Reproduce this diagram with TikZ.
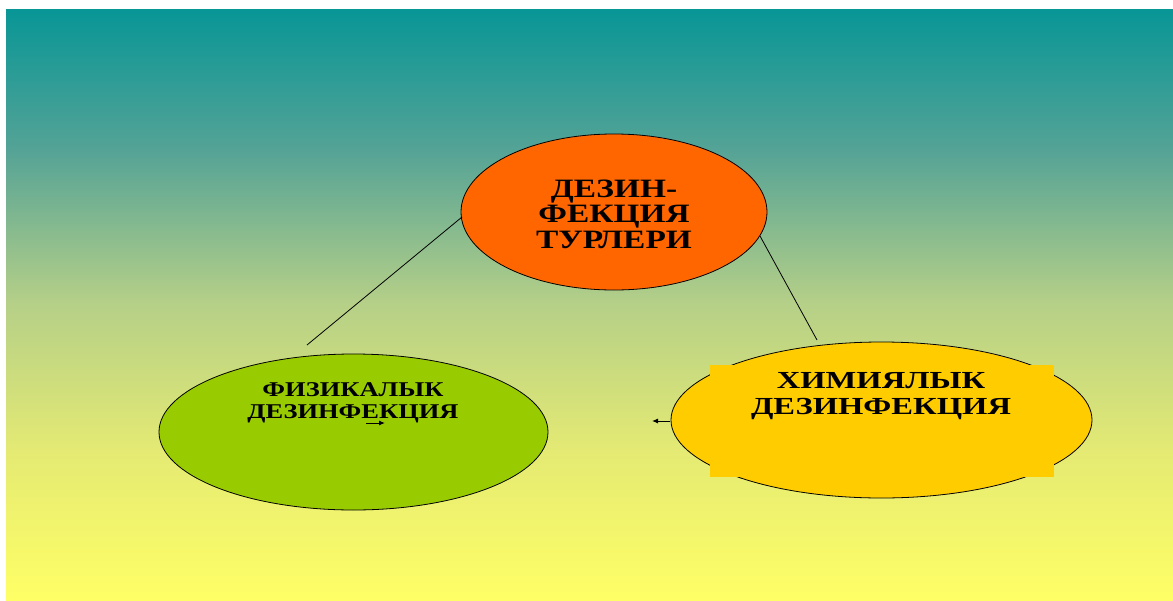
\documentclass[tikz,border=0pt]{standalone}
\usepackage{fontspec}
\setmainfont{Liberation Serif}
\newfontfamily\widefont[FakeStretch=1.26]{Liberation Serif}
\newfontfamily\widerfont[FakeStretch=1.33]{Liberation Serif}
\usetikzlibrary{shapes.geometric,arrows.meta}
\definecolor{bgA}{RGB}{8,150,150}
\definecolor{bgB}{RGB}{85,163,150}
\definecolor{bgC}{RGB}{180,207,136}
\definecolor{bgD}{RGB}{228,234,115}
\definecolor{bgE}{RGB}{255,255,102}
\definecolor{orangefill}{HTML}{FF6600}
\definecolor{greenfill}{HTML}{99CC00}
\definecolor{yellowfill}{HTML}{FFCC00}
\tikzset{
  oval/.style={ellipse, draw=black, line width=0.8pt, inner sep=0pt, minimum height=156pt},
  label/.style={align=center, anchor=base, inner sep=0pt},
  link/.style={draw=black, line width=0.8pt},
  smallarrow/.style={draw=black, line width=1pt, -{Latex[length=6pt,width=5pt]}}
}
\begin{document}
\begin{tikzpicture}[x=1pt,y=-1pt]
\useasboundingbox (0,0) rectangle (1173,600);
\shade[top color=bgA, bottom color=bgB] (6,9) rectangle (1173,151);
\shade[top color=bgB, bottom color=bgC] (6,150) rectangle (1173,301);
\shade[top color=bgC, bottom color=bgD] (6,300) rectangle (1173,451);
\shade[top color=bgD, bottom color=bgE] (6,450) rectangle (1173,600);

\node[oval, fill=orangefill, minimum width=306pt] (top) at (614,212) {};
\node[oval, fill=greenfill, minimum width=389pt] (phys) at (353.5,432) {};
\node[oval, fill=yellowfill, minimum width=421pt] (chem) at (881.5,420) {};
\fill[yellowfill] (710,365) rectangle (1054,477);

\node[label, font=\widefont\fontsize{26.5}{25.5}\selectfont\bfseries] (toptext) at (614,248) {ДЕЗИН-\\ФЕКЦИЯ\\ТУРЛЕРИ};
\node[label, font=\widefont\fontsize{21}{21.5}\selectfont\bfseries] (phystext) at (353,418) {ФИЗИКАЛЫК\\ДЕЗИНФЕКЦИЯ};
\node[label, font=\widerfont\fontsize{24.5}{26}\selectfont\bfseries] (chemtext) at (881,414) {ХИМИЯЛЫК\\ДЕЗИНФЕКЦИЯ};

\coordinate (l1a) at (462,217);
\coordinate (l1b) at (307,345);
\coordinate (l2a) at (760,236);
\coordinate (l2b) at (817,340);
\draw[link] (l1a) -- (l1b);
\draw[link] (l2a) -- (l2b);

\coordinate (a1s) at (670,421);
\coordinate (a1e) at (652,421);
\draw[smallarrow] (a1s) -- (a1e);
\coordinate (a2s) at (366,423);
\coordinate (a2e) at (385,423);
\draw[smallarrow] (a2s) -- (a2e);
\end{tikzpicture}
\end{document}
